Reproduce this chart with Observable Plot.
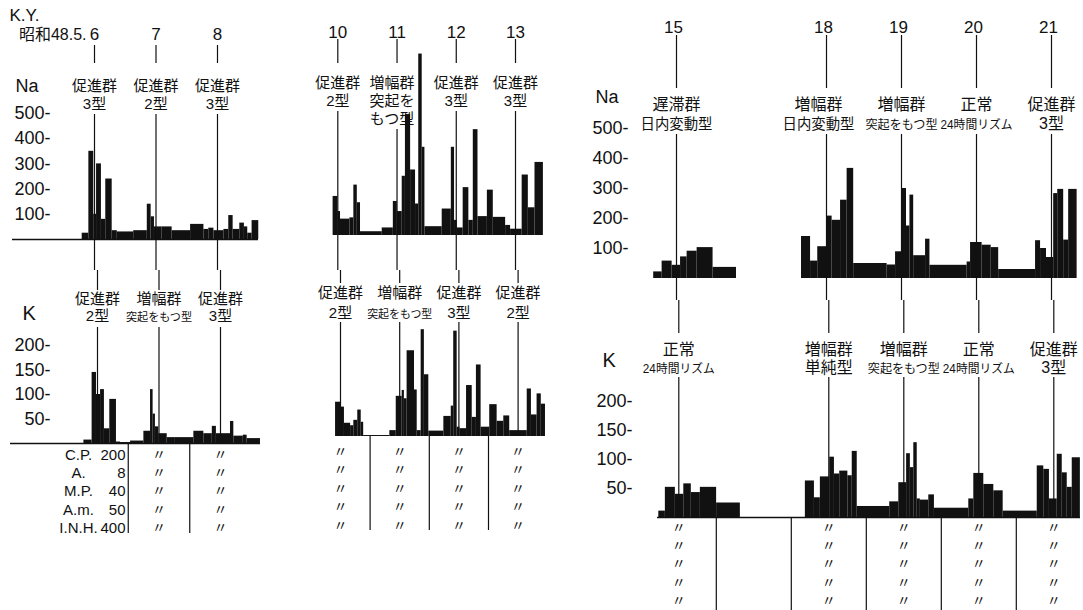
<!DOCTYPE html>
<html>
<head>
<meta charset="utf-8">
<script src="https://cdn.jsdelivr.net/npm/d3@7"></script>
<script src="https://cdn.jsdelivr.net/npm/@observablehq/plot@0.6"></script>
<style>
  html, body { margin: 0; padding: 0; background: #fff; }
  #fig { position: relative; width: 1083px; height: 610px; overflow: hidden; background: #fff; }
  #fig svg { position: absolute; overflow: visible; }
</style>
</head>
<body>
<div id="fig"></div>
<script>
// ---------- data ----------
// Urinary excretion per collection interval. Edges are hours from the first
// marked day of each block (day lines sit at multiples of 24 h).

// Block 1: days 6–8
const days1 = [6, 7, 8];
const slots1 = [0, 1, 2];
const naEdges1 = [-4.8, -2.2, -0.3, 0.8, 2.7, 4.4, 6.9, 8.9, 15.3, 20.6, 22.1, 23.4, 26.4, 30.3, 37.5, 42.7, 44.6, 46.6, 50.5, 52.4, 54.1, 56.7, 58.5, 59.8, 61.5, 64.1];
const naValues1 = [25, 350, 100, 300, 80, 240, 35, 30, 35, 140, 90, 50, 50, 35, 60, 40, 45, 35, 40, 95, 40, 65, 50, 25, 75];
const kEdges1 = [-5.3, -2.1, -0.4, 1.2, 2.7, 4.8, 7.4, 9.0, 12.9, 18.1, 20.7, 21.7, 22.6, 23.9, 27.2, 30.4, 37.6, 41.5, 44.8, 46.4, 51.9, 53.2, 56.9, 58.4, 63.6];
const kValues1 = [7, 145, 100, 110, 30, 90, 3, 2, 5, 25, 110, 60, 34, 20, 12, 12, 25, 20, 35, 20, 45, 15, 17, 10];
const naLabels1 = [["促進群", "3型"], ["促進群", "2型"], ["促進群", "3型"]];
const kLabels1 = [["促進群", "2型"], ["増幅群", "突起をもつ型"], ["促進群", "3型"]];

// Block 2: days 10–13
const days2 = [10, 11, 12, 13];
const slots2 = [0, 1, 2, 3];
const naEdges2 = [-1.9, 0, 1.1, 4.9, 6.5, 7.9, 9.2, 18.0, 22.5, 24.1, 26.1, 27.4, 29.5, 31.5, 32.8, 34.2, 35.3, 42.3, 46.0, 47.3, 48.4, 50.8, 53.1, 54.9, 56.8, 60.6, 63.0, 68.0, 70.0, 74.7, 77.2, 79.9, 83.3];
const naValues2 = [155, 95, 65, 70, 200, 130, 15, 30, 135, 95, 235, 480, 260, 125, 720, 350, 35, 105, 350, 60, 30, 190, 60, 420, 75, 180, 72, 40, 25, 240, 110, 290];
const kEdges2 = [-2.0, 0.3, 1.6, 4.1, 5.4, 7.0, 8.4, 9.4, 20.0, 22.6, 25.0, 25.9, 27.0, 30.0, 31.1, 32.7, 34.0, 35.8, 41.9, 44.9, 45.9, 47.3, 48.4, 51.1, 53.4, 55.1, 57.0, 60.5, 63.5, 66.2, 68.6, 75.7, 77.4, 79.7, 81.4, 83.1];
const kValues2 = [70, 60, 27, 22, 33, 54, 29, 2, 12, 82, 94, 77, 175, 95, 12, 218, 126, 11, 41, 62, 215, 19, 16, 104, 39, 146, 19, 65, 31, 42, 12, 97, 44, 87, 66];
const naLabels2 = [["促進群", "2型"], ["増幅群", "突起を", "もつ型"], ["促進群", "3型"], ["促進群", "3型"]];
const kLabels2 = [["促進群", "2型"], ["増幅群", "突起をもつ型"], ["促進群", "3型"], ["促進群", "2型"]];

// Block 3: day 15, then days 18–21 (days 16–17 share one slot)
const days3 = [15, 18, 19, 20, 21];
const slots3 = [0, 2, 3, 4, 5];
const naEdges3a = [-7.3, -4.6, -1.4, 1.3, 3.4, 6.6, 11.7, 19.2];
const naValues3a = [22, 58, 44, 72, 91, 103, 37];
const naEdges3b = [40.0, 42.9, 45.2, 48.0, 49.8, 52.5, 54.6, 56.7, 67.4, 70.1, 72.2, 73.6, 74.7, 75.9, 79.7, 81.1, 93.0, 94.1, 97.8, 100.7, 103.1, 114.9, 116.5, 118.4, 120.7, 122.0, 123.9, 125.5, 128.2];
const naValues3b = [140, 58, 106, 208, 194, 261, 367, 50, 45, 89, 300, 175, 278, 76, 131, 44, 55, 120, 111, 103, 30, 126, 100, 70, 283, 297, 128, 297];
const kEdges3a = [-6.4, -4.3, -1.1, 1.6, 4.0, 6.9, 12.1, 19.7];
const kValues3a = [11, 52, 40, 58, 43, 52, 25];
const kEdges3b = [40.5, 43.4, 45.3, 48.3, 49.8, 51.5, 54.1, 55.5, 57.1, 67.5, 70.4, 72.9, 74.1, 75.2, 76.3, 77.3, 80.0, 81.8, 92.8, 94.4, 97.6, 100.8, 103.8, 114.7, 116.8, 118.6, 121.1, 122.7, 124.3, 125.9, 128.5];
const kValues3b = [63, 34, 70, 104, 75, 80, 72, 114, 19, 27, 60, 110, 86, 129, 32, 30, 39, 16, 32, 76, 57, 46, 11, 89, 83, 32, 109, 77, 52, 103];
const naLabels3 = [["遅滞群", "日内変動型"], ["増幅群", "日内変動型"], ["増幅群", "突起をもつ型"], ["正常", "24時間リズム"], ["促進群", "3型"]];
const kLabels3 = [["正常", "24時間リズム"], ["増幅群", "単純型"], ["増幅群", "突起をもつ型"], ["正常", "24時間リズム"], ["促進群", "3型"]];

// Axis ticks and the drug regimen table
const naTicks = [100, 200, 300, 400, 500];
const kTicks = [50, 100, 150, 200];
const drugNames = ["C.P.", "A.", "M.P.", "A.m.", "I.N.H."];
const drugDoses = [200, 8, 40, 50, 400];
const ditto = "〃";

// ---------- drawing ----------
const fig = document.getElementById("fig");
const INK = "#111";
const LAT = "'Liberation Sans', Arial, sans-serif";
const MIX = "'Liberation Sans', 'Noto Sans CJK JP', 'Noto Sans CJK SC', sans-serif";

const intervals = (edges, values) => values.map((v, i) => ({x1: edges[i], x2: edges[i + 1], v}));
const bars = (edges, values) =>
  Plot.rect(intervals(edges, values), {x1: "x1", x2: "x2", y1: () => 0, y2: "v", fill: INK});

// Top of a multi-line text block whose first line is centred at c1 (px), line pitch s, font size f
const blockTop = (c1, s, f) => c1 - 0.71 * s + 0.38 * f;

// Stacked type labels, one text block per day; shift nudges a block sideways (px)
function labelMark(ctx, slots, labels, c1, s, f, shift = []) {
  const {X, Y, xs} = ctx;
  const rows = labels.map((lines, i) => ({x: X(xs(slots[i] * 24) + (shift[i] || 0)), t: lines.join("\n")}));
  return Plot.text(rows, {
    x: "x", y: () => Y(blockTop(c1, s, f)), text: "t", lineAnchor: "top", lineHeight: s / f,
    fontSize: f, fontFamily: MIX, fill: INK, ariaLabel: () => `fit-${f}`
  });
}

function numberMark(days, slots, yPx, Y, size, dx = 0) {
  return Plot.text(days.map((d, i) => ({x: slots[i] * 24, t: String(d)})),
    {x: "x", y: () => Y(yPx), text: "t", fontSize: size, fontFamily: LAT, fill: INK, dx});
}

// Day lines for the Na row: number stub, then from below the label downwards
function naRuleMark(slots, labels, stub, c1, s, gap, bottom, Y) {
  const rows = [];
  slots.forEach((x, i) => {
    rows.push({x: x * 24, y1: Y(stub[0]), y2: Y(stub[1])});
    rows.push({x: x * 24, y1: Y(c1 + (labels[i].length - 1) * s + gap), y2: Y(bottom)});
  });
  return Plot.ruleX(rows, {x: "x", y1: "y1", y2: "y2", stroke: INK, strokeWidth: 1.2});
}

// Day lines for the K row: continuation from above, then down to the baseline
function kRuleMark(slots, labels, topEnd, c1, s, gap, Y) {
  const rows = [];
  slots.forEach((x, i) => {
    rows.push({x: x * 24, y1: Y(0), y2: Y(topEnd)});
    rows.push({x: x * 24, y1: Y(c1 + (labels[i].length - 1) * s + gap), y2: 0});
  });
  return Plot.ruleX(rows, {x: "x", y1: "y1", y2: "y2", stroke: INK, strokeWidth: 1.2});
}

// Regimen table under the K row: separators midway between day slots, a column of ditto marks per day
function tableMarks(slots, row1, pitch, sepBottom, dittoFrom, Y) {
  const seps = [];
  for (let k = slots[0]; k < slots[slots.length - 1]; k++) seps.push((k + 0.5) * 24);
  const cols = slots.filter((s, i) => i >= dittoFrom).map(s => ({x: s * 24, t: drugNames.map(() => ditto).join("\n")}));
  return [
    Plot.ruleX(seps, {x: d => d, y1: () => 0, y2: () => Y(sepBottom), stroke: INK, strokeWidth: 1.2}),
    Plot.text(cols, {x: "x", y: () => Y(blockTop(row1, pitch, 14)), text: "t", lineAnchor: "top",
      lineHeight: pitch / 14, fontSize: 14, fontFamily: MIX, fill: INK})
  ];
}

// Fit a label line into its day column: smaller type first, then condense the glyphs
function fitLine(el, base, limit) {
  let w = el.getComputedTextLength();
  if (w <= limit) return;
  ["y", "dy"].forEach(a => {
    const v = el.getAttribute(a);
    if (v && v.endsWith("em")) el.setAttribute(a, `${parseFloat(v) * base}px`);
  });
  const size = Math.max(base * 0.75, base * limit / w);
  el.setAttribute("font-size", size);
  w = el.getComputedTextLength();
  if (w > limit) {
    el.setAttribute("textLength", limit);
    el.setAttribute("lengthAdjust", "spacingAndGlyphs");
  }
}

function panel(cfg) {
  const xs = d3.scaleLinear(cfg.xDomain, cfg.xRange);
  const ys = d3.scaleLinear(cfg.yDomain, cfg.yRange);
  const ctx = {X: p => xs.invert(p), Y: p => ys.invert(p), xs};
  const svg = Plot.plot({
    width: cfg.width, height: cfg.height,
    marginTop: 0, marginRight: 0, marginBottom: 0, marginLeft: cfg.marginLeft || 0,
    x: {domain: cfg.xDomain, range: cfg.xRange, axis: null},
    y: {domain: cfg.yDomain, range: cfg.yRange, axis: null},
    style: {background: "transparent", overflow: "visible", color: INK, fontFamily: LAT, fontSize: "18px"},
    marks: cfg.marks(ctx)
  });
  svg.style.left = cfg.left + "px";
  svg.style.top = cfg.top + "px";
  fig.appendChild(svg);
  svg.querySelectorAll('text[aria-label^="fit-"]').forEach(t => {
    const base = parseFloat(t.getAttribute("aria-label").slice(4));
    const spans = t.querySelectorAll("tspan");
    (spans.length ? Array.from(spans) : [t]).forEach(el => fitLine(el, base, cfg.fit));
  });
}

const axis = ticks => Plot.axisY(ticks, {tickSize: 0, tickPadding: 2, tickFormat: d => `${d}-`, label: null});

// ----- Block 1 -----
panel({
  left: 0, top: 0, width: 270, height: 270, marginLeft: 52, fit: 66,
  xDomain: [0, 48], xRange: [94, 217], yDomain: [0, 500], yRange: [239, 113],
  marks: ctx => {
    const {X, Y} = ctx;
    return [
      bars(naEdges1, naValues1),
      Plot.ruleY([0], {x1: () => X(12), x2: () => X(258), stroke: INK, strokeWidth: 1.4}),
      axis(naTicks),
      Plot.text(["Na"], {x: () => X(15), y: () => Y(86), text: d => d, textAnchor: "start", fontSize: 18, fill: INK}),
      Plot.text(["K.Y."], {x: () => X(9), y: () => Y(15), text: d => d, textAnchor: "start", fontSize: 17, fill: INK}),
      Plot.text(["昭和48.5."], {x: () => X(86), y: () => Y(34), text: d => d, textAnchor: "end", fontSize: 16, fontFamily: MIX, fill: INK}),
      numberMark(days1, slots1, 34, Y, 17),
      labelMark(ctx, slots1, naLabels1, 85, 18, 15),
      naRuleMark(slots1, naLabels1, [45, 63], 85, 18, 11, 270, Y)
    ];
  }
});
panel({
  left: 0, top: 270, width: 270, height: 280, marginLeft: 52, fit: 66,
  xDomain: [0, 48], xRange: [97, 220], yDomain: [0, 200], yRange: [173, 75],
  marks: ctx => {
    const {X, Y} = ctx;
    const top = Y(blockTop(183, 18.3, 15) + 0.5);
    return [
      bars(kEdges1, kValues1),
      Plot.ruleY([0], {x1: () => X(10), x2: () => X(260), stroke: INK, strokeWidth: 1.4}),
      axis(kTicks),
      Plot.text(["K"], {x: () => X(22), y: () => Y(43), text: d => d, textAnchor: "start", fontSize: 20, fill: INK}),
      labelMark(ctx, slots1, kLabels1, 28, 17, 15),
      kRuleMark(slots1, kLabels1, 20, 28, 17, 12, Y),
      ...tableMarks(slots1, 183, 18.3, 263, 1, Y),
      Plot.text([drugNames.join("\n")], {x: () => X(78), y: () => top, text: d => d,
        lineAnchor: "top", lineHeight: 18.3 / 15, fontSize: 15, fill: INK}),
      Plot.text([drugDoses.join("\n")], {x: () => X(125), y: () => top, text: d => d,
        lineAnchor: "top", lineHeight: 18.3 / 15, textAnchor: "end", fontSize: 15, fill: INK})
    ];
  }
});

// ----- Block 2 -----
panel({
  left: 290, top: 0, width: 270, height: 270, fit: 65,
  xDomain: [0, 72], xRange: [47.3, 225], yDomain: [0, 500], yRange: [235, 109],
  marks: ctx => [
    bars(naEdges2, naValues2),
    numberMark(days2, slots2, 32, ctx.Y, 17),
    labelMark(ctx, slots2, naLabels2, 82, 18, 15, [0, -5, 0, 0]),
    naRuleMark(slots2, naLabels2, [39, 63], 82, 18, 11, 270, ctx.Y)
  ]
});
panel({
  left: 290, top: 270, width: 270, height: 280, fit: 65,
  xDomain: [0, 72], xRange: [50, 227.6], yDomain: [0, 200], yRange: [166, 68],
  marks: ctx => [
    bars(kEdges2, kValues2),
    labelMark(ctx, slots2, kLabels2, 22, 20, 15),
    kRuleMark(slots2, kLabels2, 13, 22, 20, 10, ctx.Y),
    ...tableMarks(slots2, 180, 18.5, 260, 0, ctx.Y)
  ]
});

// ----- Block 3 -----
panel({
  left: 570, top: 0, width: 513, height: 300, marginLeft: 60, fit: 72,
  xDomain: [0, 120], xRange: [106, 481], yDomain: [0, 500], yRange: [278, 128],
  marks: ctx => {
    const {X, Y} = ctx;
    return [
      bars(naEdges3a, naValues3a),
      bars(naEdges3b, naValues3b),
      axis(naTicks),
      Plot.text(["Na"], {x: () => X(25), y: () => Y(97), text: d => d, textAnchor: "start", fontSize: 18, fill: INK}),
      numberMark(days3, slots3, 27, Y, 17, -3),
      labelMark(ctx, slots3, naLabels3, 103, 19, 16, [0, -8, 0, 0, 0]),
      naRuleMark(slots3, naLabels3, [35, 88], 103, 19, 12, 300, Y)
    ];
  }
});
panel({
  left: 570, top: 300, width: 513, height: 310, marginLeft: 64, fit: 72,
  xDomain: [0, 120], xRange: [108.3, 483.3], yDomain: [0, 200], yRange: [217, 101],
  marks: ctx => {
    const {X, Y} = ctx;
    return [
      bars(kEdges3a, kValues3a),
      bars(kEdges3b, kValues3b),
      Plot.ruleY([0], {x1: () => X(87), x2: () => X(510), stroke: INK, strokeWidth: 1.4}),
      axis(kTicks),
      Plot.text(["K"], {x: () => X(32), y: () => Y(60), text: d => d, textAnchor: "start", fontSize: 20, fill: INK}),
      labelMark(ctx, slots3, kLabels3, 48, 18, 16),
      kRuleMark(slots3, kLabels3, 33, 48, 18, 11, Y),
      ...tableMarks(slots3, 226, 18.3, 310, 0, Y)
    ];
  }
});
</script>
</body>
</html>
